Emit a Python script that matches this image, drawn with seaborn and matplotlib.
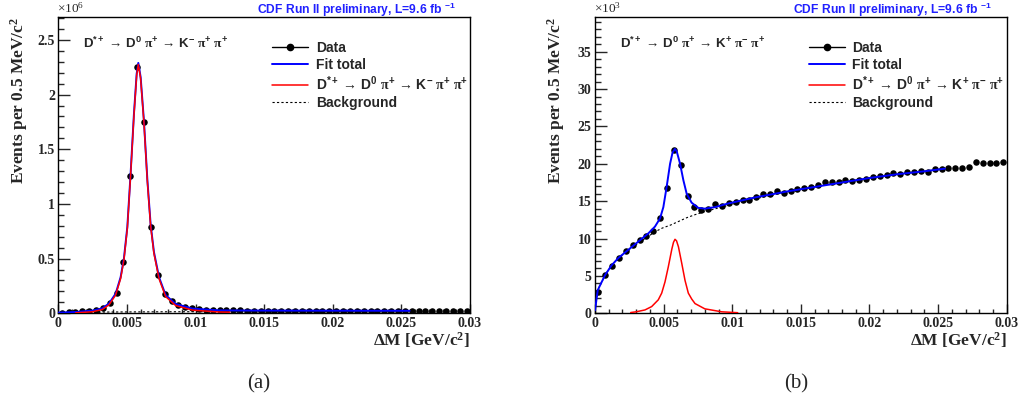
import numpy as np
import matplotlib
matplotlib.use("Agg")
import matplotlib.pyplot as plt
import seaborn as sns
from matplotlib.lines import Line2D
from matplotlib.ticker import MultipleLocator, FuncFormatter

# --- data ---
bin_centers = np.arange(0.00025, 0.03, 0.0005)

# (a) right-sign D*+ -> D0 pi+ -> K- pi+ pi+, events x10^6
rs_counts = [0.006, 0.009, 0.012, 0.018, 0.024, 0.033, 0.045, 0.09, 0.19, 0.47,
             1.26, 2.25, 1.75, 0.79, 0.35, 0.18, 0.11, 0.076, 0.058, 0.046,
             0.038, 0.033, 0.030, 0.028, 0.027, 0.026, 0.026, 0.025, 0.025, 0.025,
             0.024, 0.024, 0.024, 0.024, 0.023, 0.023, 0.023, 0.023, 0.023, 0.022,
             0.022, 0.022, 0.022, 0.022, 0.022, 0.021, 0.021, 0.021, 0.021, 0.021,
             0.021, 0.021, 0.020, 0.020, 0.020, 0.020, 0.020, 0.020, 0.020, 0.020]
rs_fit_x = [0.0, 0.00126, 0.00248, 0.0032, 0.0037, 0.00418, 0.00454, 0.00478, 0.00503,
            0.00527, 0.00551, 0.00571, 0.00583, 0.006, 0.00624, 0.00649, 0.00673,
            0.00697, 0.00734, 0.00782, 0.00855, 0.00977, 0.0117, 0.0125, 0.015,
            0.02, 0.0256]
rs_fit_total = [0.006, 0.012, 0.024, 0.045, 0.09, 0.18, 0.33, 0.50, 0.79,
                1.28, 1.82, 2.19, 2.29, 2.16, 1.76, 1.22, 0.81,
                0.56, 0.33, 0.167, 0.085, 0.043, 0.027, 0.026, 0.025,
                0.024, 0.023]
rs_sig_x = rs_fit_x[1:24]
rs_sig = [0.004, 0.014, 0.034, 0.078, 0.167, 0.317, 0.487, 0.776,
          1.266, 1.806, 2.176, 2.276, 2.146, 1.746, 1.206, 0.795,
          0.546, 0.316, 0.153, 0.071, 0.029, 0.012, 0.010]
rs_bkg_x = [0.0, 0.0005, 0.001, 0.002, 0.004, 0.006, 0.008, 0.012, 0.018, 0.024, 0.0256]
rs_bkg = [0.0, 0.005, 0.008, 0.010, 0.012, 0.013, 0.014, 0.015, 0.016, 0.017, 0.018]

# (b) wrong-sign D*+ -> D0 pi+ -> K+ pi- pi+, events x10^3
ws_counts = [2.9, 5.1, 6.3, 7.4, 8.4, 9.2, 9.8, 10.4, 11.0, 12.7,
             16.8, 21.9, 19.9, 15.7, 14.2, 13.8, 13.9, 14.6, 14.3, 14.8,
             14.9, 15.2, 15.2, 15.6, 15.9, 16.0, 16.3, 16.1, 16.4, 16.6,
             16.7, 16.9, 17.1, 17.5, 17.6, 17.55, 17.8, 17.65, 17.9, 18.0,
             18.3, 18.35, 18.45, 18.8, 18.6, 18.9, 18.9, 19.1, 18.95, 19.25,
             19.35, 19.4, 19.4, 19.45, 19.6, 20.3, 20.05, 20.05, 20.05, 20.25]
ws_fit_x = [0.0, 0.0002, 0.00073, 0.0012, 0.0017, 0.00243, 0.00316, 0.00389, 0.00437,
            0.00474, 0.00498, 0.00522, 0.00547, 0.00565, 0.00582, 0.00595, 0.0062, 0.00644,
            0.00668, 0.00704, 0.00753, 0.008, 0.00874, 0.00972, 0.01069, 0.01166,
            0.014, 0.016, 0.018, 0.02, 0.022, 0.024, 0.0255]
ws_fit_total = [0.4, 3.1, 5.1, 6.4, 7.4, 8.5, 9.6, 10.7, 11.6,
                12.7, 14.2, 16.9, 20.0, 21.5, 22.0, 21.7, 20.0, 17.8,
                16.0, 14.8, 14.1, 14.0, 14.2, 14.7, 15.1, 15.5,
                16.3, 16.9, 17.5, 18.1, 18.6, 19.0, 19.35]
ws_sig_x = [0.0026, 0.003, 0.00364, 0.00413, 0.00461, 0.00486, 0.0051, 0.00534, 0.0056,
            0.00572, 0.00583, 0.00594, 0.00608, 0.00632, 0.00656, 0.0068, 0.00705, 0.00729,
            0.008, 0.00923, 0.0104]
ws_sig = [0.1, 0.2, 0.45, 0.9, 1.8, 2.7, 4.2, 6.2, 8.6,
          9.5, 9.9, 9.7, 8.9, 6.7, 4.4, 2.7, 1.9, 1.3, 0.6, 0.2, 0.08]
ws_bkg_x = [0.0, 0.0002, 0.00073, 0.0012, 0.0017, 0.00243, 0.00316, 0.00389, 0.00437,
            0.0049, 0.0055, 0.0061, 0.0067, 0.0073, 0.008, 0.009, 0.01, 0.011, 0.012,
            0.014, 0.016, 0.018, 0.02, 0.022, 0.024, 0.0255]
ws_bkg = [0.4, 3.1, 5.1, 6.4, 7.4, 8.4, 9.4, 10.3, 10.9,
          11.4, 11.8, 12.3, 12.8, 13.2, 13.6, 14.1, 14.6, 15.1, 15.45,
          16.25, 16.9, 17.5, 18.1, 18.6, 19.0, 19.35]

PI = r"\mathrm{\pi}"
ARR = r"\,\rightarrow\,"
rs_label = (r"$\mathbf{D^{*+}}" + ARR + r"\mathbf{D^{0}}\ " + PI + r"^{\mathbf{+}}" + ARR +
            r"\mathbf{K^{-}}\ " + PI + r"^{\mathbf{+}}\ " + PI + r"^{\mathbf{+}}$")
ws_label = (r"$\mathbf{D^{*+}}" + ARR + r"\mathbf{D^{0}}\ " + PI + r"^{\mathbf{+}}" + ARR +
            r"\mathbf{K^{+}}\ " + PI + r"^{\mathbf{-}}\ " + PI + r"^{\mathbf{+}}$")

sns.set_theme(style="ticks")
plt.rcParams["font.family"] = ["Liberation Serif", "DejaVu Serif"]
plt.rcParams["font.weight"] = "bold"
plt.rcParams["mathtext.fontset"] = "custom"
plt.rcParams["mathtext.rm"] = "Liberation Serif"
plt.rcParams["mathtext.it"] = "Liberation Serif:italic"
plt.rcParams["mathtext.bf"] = "Liberation Sans:bold"
plt.rcParams["mathtext.default"] = "regular"
plt.rcParams["axes.linewidth"] = 1.0

SANS = ["Liberation Sans", "DejaVu Sans"]
W, H = 1019, 403
fig = plt.figure(figsize=(W / 100, H / 100), dpi=100)
ax_a = fig.add_axes([58.3 / W, 1 - 313.3 / H, 411.7 / W, 296 / H])
ax_b = fig.add_axes([595 / W, 1 - 313.3 / H, 411.7 / W, 296 / H])


def draw_panel(ax, counts, fit_x, fit_tot, sig_x, sig, bkg_x, bkg, label, ymax, ymajor, exp):
    sns.scatterplot(x=bin_centers, y=counts, ax=ax, color="black", s=22, linewidth=0, zorder=3)
    sns.lineplot(x=fit_x, y=fit_tot, ax=ax, color="#0000ff", lw=1.4, estimator=None, sort=False, zorder=4)
    sns.lineplot(x=sig_x, y=sig, ax=ax, color="#ff0000", lw=1.1, estimator=None, sort=False, zorder=5)
    sns.lineplot(x=bkg_x, y=bkg, ax=ax, color="black", lw=0.8, ls=(0, (2, 2)),
                 estimator=None, sort=False, zorder=2)

    ax.set_xlim(0, 0.03)
    ax.set_ylim(0, ymax)
    ax.xaxis.set_major_locator(MultipleLocator(0.005))
    ax.xaxis.set_minor_locator(MultipleLocator(0.001))
    ax.yaxis.set_major_locator(MultipleLocator(ymajor))
    ax.yaxis.set_minor_locator(MultipleLocator(ymajor / 5))
    fmt = FuncFormatter(lambda v, p: "%g" % round(v, 6))
    ax.xaxis.set_major_formatter(fmt)
    ax.yaxis.set_major_formatter(fmt)
    ax.tick_params(axis="y", which="major", direction="in", length=8.6, width=1.0, pad=2.4, labelsize=10)
    ax.tick_params(axis="y", which="minor", direction="in", length=4.3, width=1.0)
    ax.tick_params(axis="x", which="major", direction="in", length=6.5, width=1.0, pad=3, labelsize=10)
    ax.tick_params(axis="x", which="minor", direction="in", length=3.2, width=1.0)
    for s in ax.spines.values():
        s.set_visible(True)
        s.set_color("black")
    ax.set_xlabel("")
    ax.set_ylabel("")

    ax.text(-0.095, 1.0, "Events per 0.5 MeV/c$^{2}$", rotation=90, ha="center", va="top",
            transform=ax.transAxes, fontsize=12.5, fontweight="bold")
    ax.text(1.0, -0.09, r"$\Delta$M [GeV/c$^{2}$]", ha="right", va="center",
            transform=ax.transAxes, fontsize=12.5, fontweight="bold")
    ax.text(-0.003, 1.005, r"$\times$10$^{%d}$" % exp, ha="left", va="bottom",
            transform=ax.transAxes, fontsize=9.5, fontweight="normal")
    ax.text(0.964, 1.025, r"CDF Run II preliminary, L=9.6 fb $^{\mathbf{-1}}$", ha="right",
            va="center", transform=ax.transAxes, fontsize=8.7, color="#2020ff",
            family=SANS, fontweight="bold")
    ax.text(0.06, 0.913, label, ha="left", va="center", transform=ax.transAxes,
            fontsize=9.5, family=SANS, fontweight="bold")

    handles = [
        Line2D([], [], color="black", marker="o", markersize=4.5, lw=1.0),
        Line2D([], [], color="#0000ff", lw=1.4),
        Line2D([], [], color="#ff0000", lw=1.1),
        Line2D([], [], color="black", lw=0.8, ls=(0, (2, 2))),
    ]
    ax.legend(handles, ["Data", "Fit total", label, "Background"], loc="upper left",
              bbox_to_anchor=(0.519, 0.92), frameon=False, borderaxespad=0, borderpad=0,
              handlelength=2.6, handletextpad=0.55, labelspacing=0.2,
              prop={"family": SANS, "weight": "bold", "size": 10})


draw_panel(ax_a, rs_counts, rs_fit_x, rs_fit_total, rs_sig_x, rs_sig, rs_bkg_x, rs_bkg,
           rs_label, 2.707, 0.5, 6)
draw_panel(ax_b, ws_counts, ws_fit_x, ws_fit_total, ws_sig_x, ws_sig, ws_bkg_x, ws_bkg,
           ws_label, 39.6, 5, 3)

fig.text(259 / W, 1 - 384 / H, "(a)", ha="center", va="center", fontsize=15, fontweight="normal")
fig.text(795.7 / W, 1 - 384 / H, "(b)", ha="center", va="center", fontsize=15, fontweight="normal")

fig.savefig("out.png", dpi=100)
